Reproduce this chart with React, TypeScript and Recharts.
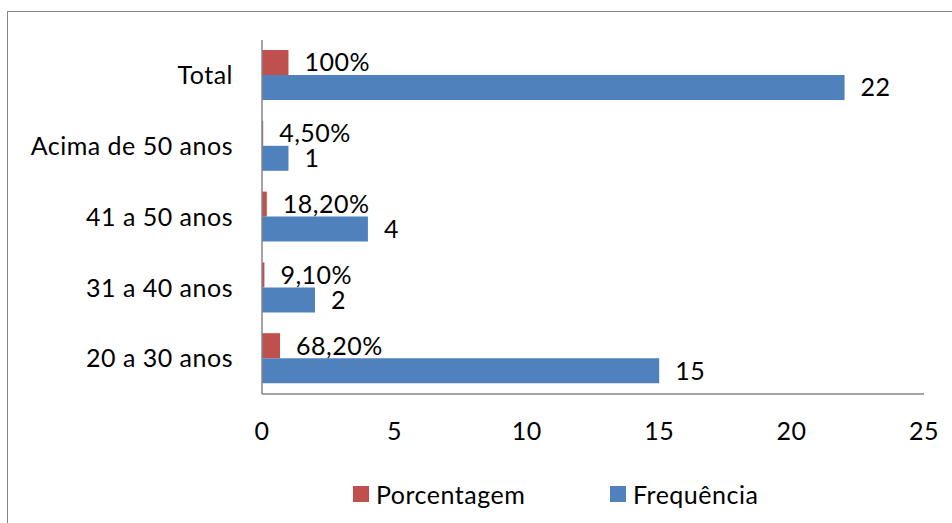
import { BarChart, Bar, XAxis, YAxis, LabelList, Legend } from "recharts";

const categories = ["Total", "Acima de 50 anos", "41 a 50 anos", "31 a 40 anos", "20 a 30 anos"];
const porcentagem = [1, 0.045, 0.182, 0.091, 0.682];
const porcentagemLabels = ["100%", "4,50%", "18,20%", "9,10%", "68,20%"];
const frequencia = [22, 1, 4, 2, 15];
const xTicks = [0, 5, 10, 15, 20, 25];
const legendOrder = ["Porcentagem", "Frequência"];

const RED = "#C0504D";
const BLUE = "#4F81BD";
const AXIS = "#868686";
const FONT = "Lato, sans-serif";
const FS = 25;

const data = categories.map((name, i) => ({
  name,
  porcentagem: porcentagem[i],
  pctLabel: porcentagemLabels[i],
  frequencia: frequencia[i],
}));

// legend drawn as squares + text, like the Excel original
const renderLegend = (props: any) => {
  const items = [...(props.payload || [])].sort(
    (a: any, b: any) => legendOrder.indexOf(a.value) - legendOrder.indexOf(b.value)
  );
  return (
    <div style={{ display: "flex", alignItems: "center", paddingLeft: 353 }}>
      {items.map((it: any, i: number) => (
        <div key={i} style={{ display: "flex", alignItems: "center", width: 257 }}>
          <div style={{ width: 16, height: 16, background: it.color, marginRight: 7 }} />
          <span style={{ fontSize: FS, color: "#000" }}>{it.value}</span>
        </div>
      ))}
    </div>
  );
};

export default function App() {
  return (
    <div
      style={{
        position: "absolute",
        left: 0,
        top: 0,
        width: 952,
        height: 523,
        overflow: "hidden",
        background: "#fff",
        fontFamily: FONT,
        letterSpacing: "0.5px",
      }}
    >
      <div
        style={{
          position: "absolute",
          left: 7,
          top: 11,
          width: 980,
          height: 540,
          border: `1px solid ${AXIS}`,
        }}
      />
      <BarChart
        width={952}
        height={523}
        data={data}
        layout="vertical"
        margin={{ top: 40, right: 28, left: 0, bottom: 0 }}
        barGap={0}
        style={{ position: "absolute", left: 0, top: 0 }}
      >
        <XAxis
          type="number"
          domain={[0, 25]}
          ticks={xTicks}
          height={129}
          tickLine={false}
          tickSize={0}
          tickMargin={28}
          axisLine={{ stroke: AXIS, strokeWidth: 1.5 }}
          tick={{ fill: "#000", fontSize: FS }}
          interval={0}
        />
        <YAxis
          type="category"
          dataKey="name"
          width={262}
          tickLine={false}
          tickSize={0}
          tickMargin={29}
          axisLine={{ stroke: AXIS, strokeWidth: 1.5 }}
          tick={{ fill: "#000", fontSize: FS }}
          interval={0}
        />
        <Legend
          content={renderLegend}
          layout="horizontal"
          verticalAlign="middle"
          align="center"
          wrapperStyle={{ position: "absolute", top: 479, left: 0, width: 952 }}
        />
        <Bar dataKey="porcentagem" name="Porcentagem" fill={RED} barSize={25} isAnimationActive={false}>
          <LabelList dataKey="pctLabel" position="right" offset={16} fill="#000" fontSize={FS} />
        </Bar>
        <Bar dataKey="frequencia" name="Frequência" fill={BLUE} barSize={25} isAnimationActive={false}>
          <LabelList dataKey="frequencia" position="right" offset={16} fill="#000" fontSize={FS} />
        </Bar>
      </BarChart>
    </div>
  );
}
